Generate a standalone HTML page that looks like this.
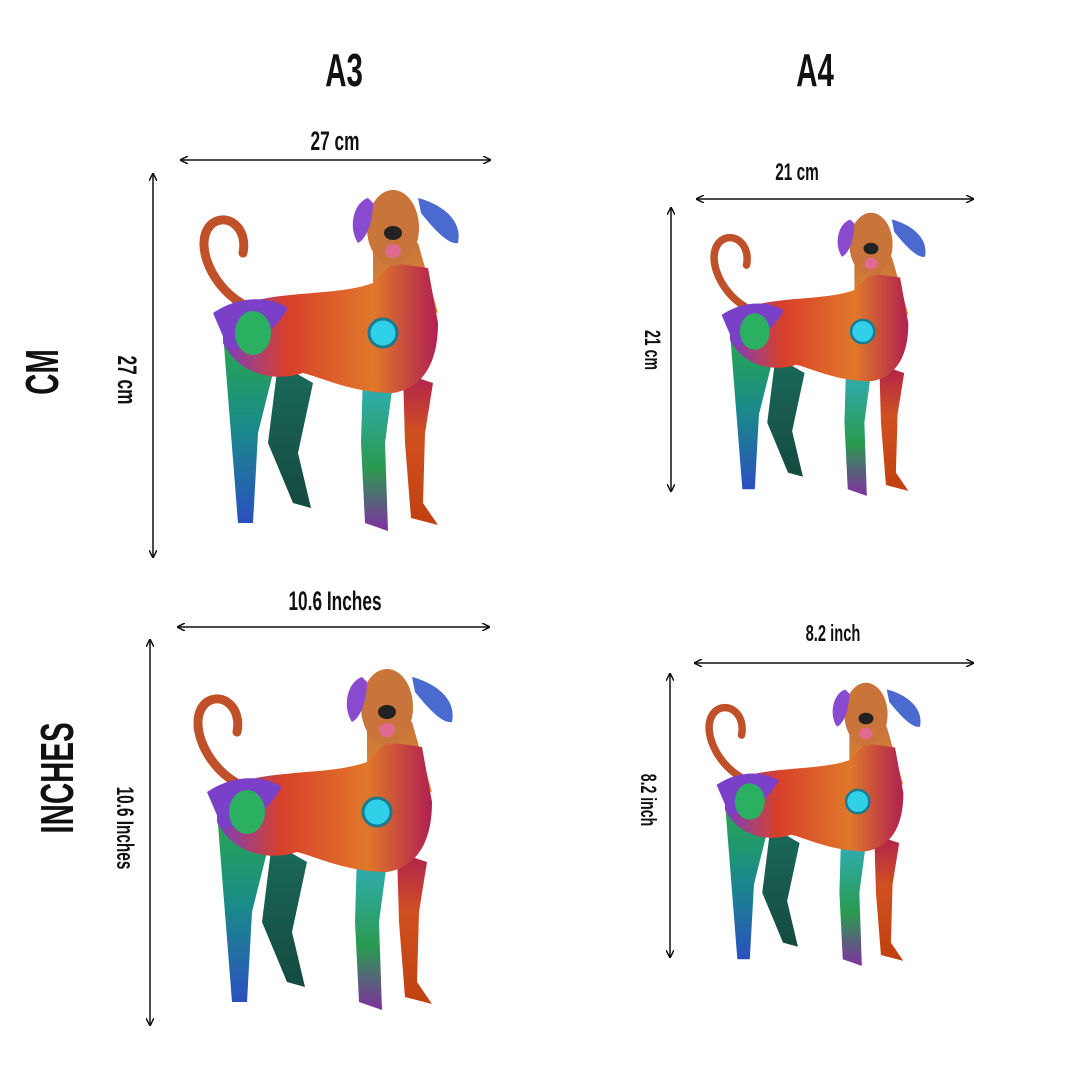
<!DOCTYPE html>
<html><head><meta charset="utf-8"><style>
html,body{margin:0;padding:0;background:#fff;}
svg{display:block}
text{font-family:"Liberation Sans",sans-serif;font-weight:bold;fill:#111;}
</style></head><body>
<svg width="1080" height="1080" viewBox="0 0 1080 1080" xmlns="http://www.w3.org/2000/svg">
<defs>
<marker id="ah" markerWidth="8" markerHeight="8" refX="7" refY="4" orient="auto-start-reverse" markerUnits="userSpaceOnUse">
<path d="M0,0 L8,4 L0,8" fill="none" stroke="#111" stroke-width="1.5"/></marker>
<linearGradient id="gb" x1="0" x2="1"><stop offset="0" stop-color="#7a3fc0"/><stop offset="0.3" stop-color="#d8402a"/><stop offset="0.7" stop-color="#e0782a"/><stop offset="1" stop-color="#b02050"/></linearGradient>
<linearGradient id="gl1" x1="0" y1="0" x2="0" y2="1"><stop offset="0" stop-color="#2aa84a"/><stop offset="0.5" stop-color="#1a8a8a"/><stop offset="1" stop-color="#2a50c0"/></linearGradient>
<linearGradient id="gl2" x1="0" y1="0" x2="0" y2="1"><stop offset="0" stop-color="#1a6a5a"/><stop offset="1" stop-color="#154a40"/></linearGradient>
<linearGradient id="gl3" x1="0" y1="0" x2="0" y2="1"><stop offset="0" stop-color="#30b0c0"/><stop offset="0.6" stop-color="#2a9a50"/><stop offset="1" stop-color="#8030a0"/></linearGradient>
<linearGradient id="gl4" x1="0" y1="0" x2="0" y2="1"><stop offset="0" stop-color="#b02050"/><stop offset="0.4" stop-color="#d05020"/><stop offset="1" stop-color="#c04010"/></linearGradient>
<linearGradient id="gn" x1="0" y1="0" x2="0" y2="1"><stop offset="0" stop-color="#c8743a"/><stop offset="1" stop-color="#e08a30"/></linearGradient>
<g id="dog">
<path d="M48,120 C15,100 0,55 20,40 C35,30 55,45 50,70" fill="none" stroke="#c0502a" stroke-width="9" stroke-linecap="round"/>
<path d="M30,150 L45,340 L60,340 L65,250 L80,190 Z" fill="url(#gl1)"/>
<path d="M85,180 L75,260 L100,320 L118,325 L105,270 L120,200 Z" fill="url(#gl2)"/>
<path d="M170,190 L168,260 L172,340 L195,348 L192,260 L200,200 Z" fill="url(#gl3)"/>
<path d="M210,190 L212,260 L218,335 L245,342 L230,320 L232,250 L240,200 Z" fill="url(#gl4)"/>
<path d="M180,60 L225,60 L245,130 L180,110 Z" fill="url(#gn)"/>
<path d="M30,130 C70,105 140,115 180,100 L200,80 L235,85 L245,140 C245,180 230,205 200,210 C160,210 130,195 110,190 C80,200 45,190 30,160 Z" fill="url(#gb)"/>
<ellipse cx="190" cy="150" rx="14" ry="14" fill="#30d0e8" stroke="#1a7a90" stroke-width="3"/>
<path d="M20,130 C50,110 80,115 95,125 C80,150 55,170 35,165 Z" fill="#7a40c8"/>
<ellipse cx="60" cy="150" rx="18" ry="22" fill="#2ab060"/>
<ellipse cx="200" cy="45" rx="26" ry="38" fill="#c8743a"/>
<path d="M175,15 C160,20 155,45 165,60 C175,55 180,35 180,20 Z" fill="#8a4ad0"/>
<path d="M225,15 C245,20 270,35 265,60 C255,62 240,45 228,30 Z" fill="#4a6ad0"/>
<ellipse cx="200" cy="50" rx="9" ry="7" fill="#222"/>
<ellipse cx="200" cy="68" rx="8" ry="7" fill="#e06a90"/>
</g>
</defs>

<text transform="translate(344,86) scale(0.64,1)" text-anchor="middle" font-size="46">A3</text>
<text transform="translate(815,86) scale(0.64,1)" text-anchor="middle" font-size="46">A4</text>
<text transform="translate(58,372) rotate(-90) scale(0.64,1)" text-anchor="middle" font-size="46">CM</text>
<text transform="translate(73,778) rotate(-90) scale(0.64,1)" text-anchor="middle" font-size="46">INCHES</text>

<g stroke="#111" stroke-width="1.5" marker-start="url(#ah)" marker-end="url(#ah)">
<line x1="181" y1="160" x2="490" y2="160"/>
<line x1="153" y1="174" x2="153" y2="557"/>
<line x1="697" y1="199" x2="973" y2="199"/>
<line x1="671" y1="208" x2="671" y2="491"/>
<line x1="178" y1="627" x2="489" y2="627"/>
<line x1="150" y1="640" x2="150" y2="1025"/>
<line x1="695" y1="663" x2="973" y2="663"/>
<line x1="670" y1="674" x2="670" y2="957"/>
</g>

<text transform="translate(335,150) scale(0.64,1)" text-anchor="middle" font-size="27">27 cm</text>
<text transform="translate(118,380) rotate(90) scale(0.64,1)" text-anchor="middle" font-size="27">27 cm</text>
<text transform="translate(797,180) scale(0.64,1)" text-anchor="middle" font-size="24">21 cm</text>
<text transform="translate(645,350) rotate(90) scale(0.64,1)" text-anchor="middle" font-size="22">21 cm</text>
<text transform="translate(335,610) scale(0.64,1)" text-anchor="middle" font-size="27">10.6  Inches</text>
<text transform="translate(117,828) rotate(90) scale(0.64,1)" text-anchor="middle" font-size="24">10.6 Inches</text>
<text transform="translate(833,641) scale(0.64,1)" text-anchor="middle" font-size="23">8.2 inch</text>
<text transform="translate(641,800) rotate(90) scale(0.64,1)" text-anchor="middle" font-size="22">8.2 inch</text>

<use href="#dog" transform="translate(193,183)"/>
<use href="#dog" transform="translate(187,662)"/>
<use href="#dog" transform="translate(705,207) scale(0.83)"/>
<use href="#dog" transform="translate(700,677) scale(0.83)"/>
</svg>
</body></html>
